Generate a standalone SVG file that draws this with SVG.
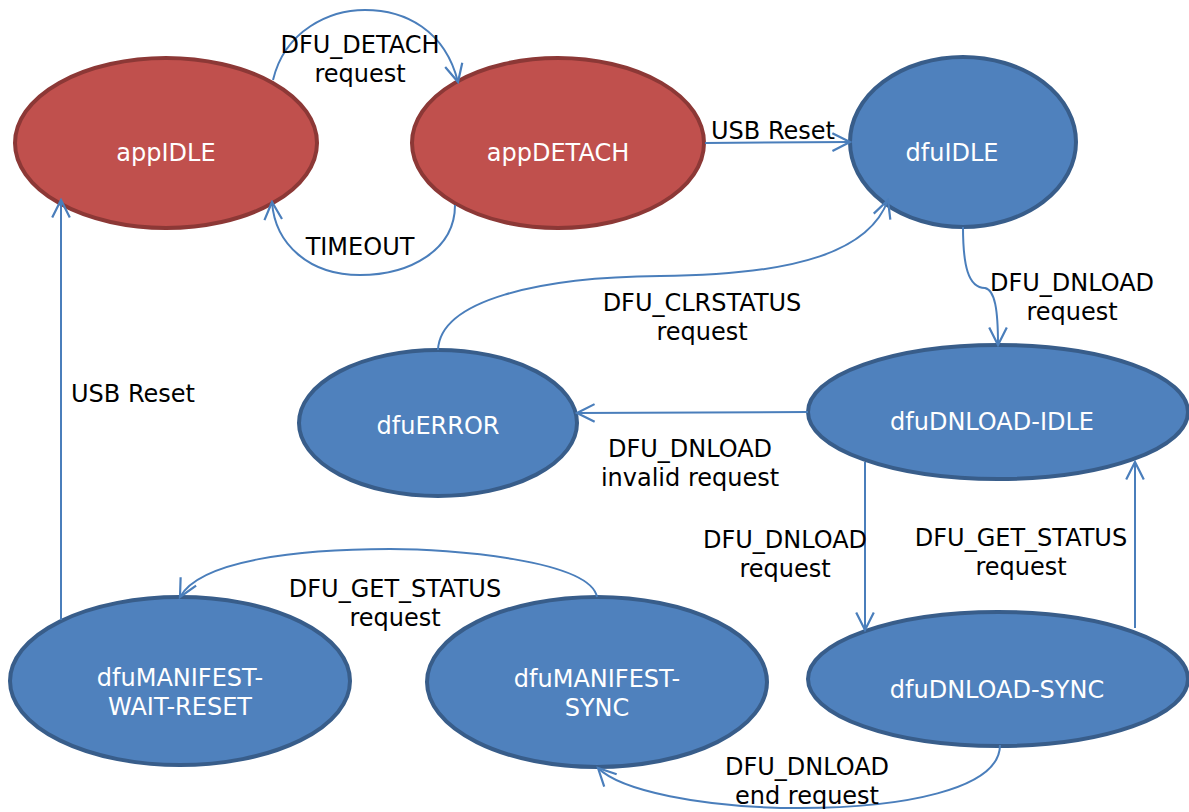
<svg xmlns="http://www.w3.org/2000/svg" width="1189" height="812" viewBox="0 0 1189 812">
<style>
.red{fill:#C0504D;stroke:#8C3836;stroke-width:4}
.blue{fill:#4F81BD;stroke:#385D8A;stroke-width:4}
.nt{font-family:"DejaVu Sans",Verdana,sans-serif;font-size:24px;fill:#FFFFFF;text-anchor:middle}
.lt{font-family:"DejaVu Sans",Verdana,sans-serif;font-size:24px;fill:#000000;text-anchor:middle}
.c{fill:none;stroke:#4A7EBB;stroke-width:2;marker-end:url(#arr)}
</style>
<defs>
<marker id="arr" viewBox="0 0 20 20" refX="18" refY="10" markerWidth="22" markerHeight="22" markerUnits="userSpaceOnUse" orient="auto">
<path d="M2,2 L18,10 L2,18" fill="none" stroke="#4A7EBB" stroke-width="2"/>
</marker>
</defs>
<rect width="1189" height="812" fill="#FFFFFF"/>
<g id="appIDLE"><ellipse class="red" cx="166" cy="143" rx="151" ry="85"/><text class="nt" x="166" y="161">appIDLE</text></g>
<g id="appDETACH"><ellipse class="red" cx="558" cy="143" rx="146" ry="85"/><text class="nt" x="558" y="161">appDETACH</text></g>
<g id="dfuIDLE"><ellipse class="blue" cx="963" cy="142" rx="113" ry="85"/><text class="nt" x="952" y="161">dfuIDLE</text></g>
<g id="dfuERROR"><ellipse class="blue" cx="438" cy="423" rx="139" ry="73"/><text class="nt" x="438" y="434">dfuERROR</text></g>
<g id="dfuDNLOAD-IDLE"><ellipse class="blue" cx="998" cy="412" rx="190" ry="67"/><text class="nt" x="992" y="430">dfuDNLOAD-IDLE</text></g>
<g id="dfuMANIFEST-WAIT-RESET"><ellipse class="blue" cx="180" cy="681" rx="170" ry="84"/><text class="nt" x="180" y="686">dfuMANIFEST-</text><text class="nt" x="180" y="715">WAIT-RESET</text></g>
<g id="dfuMANIFEST-SYNC"><ellipse class="blue" cx="597" cy="682" rx="170" ry="85"/><text class="nt" x="597" y="687">dfuMANIFEST-</text><text class="nt" x="597" y="716">SYNC</text></g>
<g id="dfuDNLOAD-SYNC"><ellipse class="blue" cx="998" cy="679" rx="190" ry="67"/><text class="nt" x="997" y="698">dfuDNLOAD-SYNC</text></g>
<g id="connectors">
<path class="c" d="M273,80 C285,30 330,10 365,10 C405,10 445,30 458,82"/>
<path class="c" d="M455,205 C455,250 410,275 360,275 C310,275 275,245 272,202"/>
<path class="c" d="M705,143 L850,142"/>
<path class="c" d="M963,227 C963,265 968,288 985,288 C995,290 998,310 998,345"/>
<path class="c" d="M438,350 C440,300 540,277 660,276 C800,275 870,250 888,200"/>
<path class="c" d="M808,412 L577,413"/>
<path class="c" d="M865,462 L865,630"/>
<path class="c" d="M1135,628 L1135,462"/>
<path class="c" d="M1000,745 C1000,790 900,808 800,808 C700,808 620,790 598,768"/>
<path class="c" d="M597,597 C590,560 450,549 390,549 C300,549 200,560 180,597"/>
<path class="c" d="M61,620 L61,200"/>
</g>
<g id="labels">
<text class="lt" x="360" y="53">DFU_DETACH</text><text class="lt" x="360" y="82">request</text>
<text class="lt" x="360" y="255">TIMEOUT</text>
<text class="lt" x="773" y="139">USB Reset</text>
<text class="lt" x="1072" y="291">DFU_DNLOAD</text><text class="lt" x="1072" y="320">request</text>
<text class="lt" x="702" y="311">DFU_CLRSTATUS</text><text class="lt" x="702" y="340">request</text>
<text class="lt" x="690" y="457">DFU_DNLOAD</text><text class="lt" x="690" y="486">invalid request</text>
<text class="lt" x="133" y="402">USB Reset</text>
<text class="lt" x="785" y="548">DFU_DNLOAD</text><text class="lt" x="785" y="577">request</text>
<text class="lt" x="1021" y="546">DFU_GET_STATUS</text><text class="lt" x="1021" y="575">request</text>
<text class="lt" x="395" y="597">DFU_GET_STATUS</text><text class="lt" x="395" y="626">request</text>
<text class="lt" x="807" y="775">DFU_DNLOAD</text><text class="lt" x="807" y="804">end request</text>
</g>
</svg>
